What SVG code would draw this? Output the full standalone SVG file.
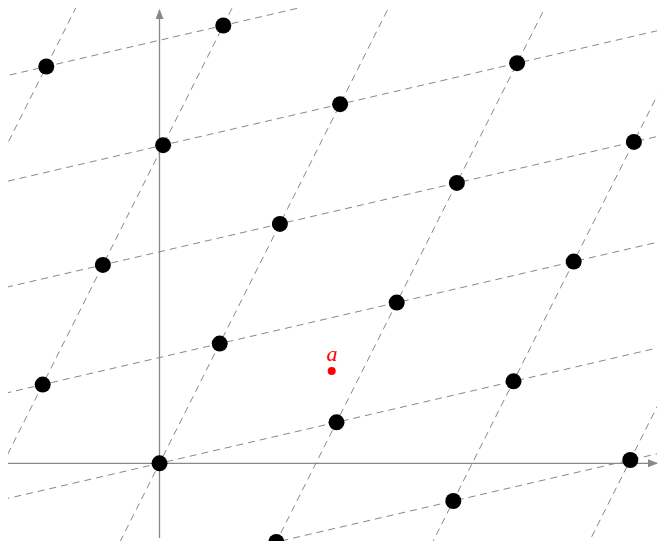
<svg xmlns="http://www.w3.org/2000/svg" width="659" height="541" viewBox="0 0 659 541">
<style>
.grid{stroke:#888;stroke-width:1;stroke-dasharray:7 5;fill:none}
.axis{stroke:#888;stroke-width:1.3;fill:none}
.pt{fill:#000}
.lbl{font-family:"Liberation Serif",serif;font-style:italic;font-size:22px;fill:#f00}
</style>
<defs>
<clipPath id="clip"><rect x="8" y="8" width="649" height="533"/></clipPath>
<marker id="arr" viewBox="0 0 10 8" refX="9" refY="4" markerWidth="10" markerHeight="8" markerUnits="userSpaceOnUse" orient="auto">
<path d="M0,0 L10,4 L0,8 Z" fill="#888"/>
</marker>
</defs>
<g id="connectors">
<g clip-path="url(#clip)">
<line class="grid" x1="-314.9" y1="784.7" x2="166.7" y2="-172.9"/>
<line class="grid" x1="-137.9" y1="743.7" x2="343.7" y2="-213.9"/>
<line class="grid" x1="39.1" y1="702.7" x2="520.7" y2="-254.9"/>
<line class="grid" x1="216.1" y1="661.7" x2="697.7" y2="-295.9"/>
<line class="grid" x1="393.1" y1="620.7" x2="874.7" y2="-336.9"/>
<line class="grid" x1="570.1" y1="579.7" x2="1051.7" y2="-377.9"/>
<line class="grid" x1="-431.7" y1="706" x2="984.3" y2="378"/>
<line class="grid" x1="-371.5" y1="586.3" x2="1044.5" y2="258.3"/>
<line class="grid" x1="-311.3" y1="466.6" x2="1104.7" y2="138.6"/>
<line class="grid" x1="-251.1" y1="346.9" x2="1164.9" y2="18.9"/>
<line class="grid" x1="-190.9" y1="227.2" x2="1225.1" y2="-100.8"/>
<line class="grid" x1="-130.7" y1="107.5" x2="1285.3" y2="-220.5"/>
</g>
<line id="x-axis" class="axis" x1="8" y1="463.3" x2="657" y2="463.3" marker-end="url(#arr)"/>
<line id="y-axis" class="axis" x1="159.5" y1="538" x2="159.5" y2="10" marker-end="url(#arr)"/>
</g>
<g id="p00"><circle class="pt" cx="159.5" cy="463.3" r="8"/></g>
<g id="p01"><circle class="pt" cx="336.5" cy="422.3" r="8"/></g>
<g id="p02"><circle class="pt" cx="513.5" cy="381.3" r="8"/></g>
<g id="pm13"><circle class="pt" cx="630.3" cy="460" r="8"/></g>
<g id="pm12"><circle class="pt" cx="453.3" cy="501" r="8"/></g>
<g id="pm11"><circle class="pt" cx="276.3" cy="542" r="8"/></g>
<g id="p10"><circle class="pt" cx="219.7" cy="343.6" r="8"/></g>
<g id="p11"><circle class="pt" cx="396.7" cy="302.6" r="8"/></g>
<g id="p12"><circle class="pt" cx="573.7" cy="261.6" r="8"/></g>
<g id="p1m1"><circle class="pt" cx="42.7" cy="384.6" r="8"/></g>
<g id="p20"><circle class="pt" cx="279.9" cy="223.9" r="8"/></g>
<g id="p21"><circle class="pt" cx="456.9" cy="182.9" r="8"/></g>
<g id="p22"><circle class="pt" cx="633.9" cy="141.9" r="8"/></g>
<g id="p2m1"><circle class="pt" cx="102.9" cy="264.9" r="8"/></g>
<g id="p30"><circle class="pt" cx="340.1" cy="104.2" r="8"/></g>
<g id="p31"><circle class="pt" cx="517.1" cy="63.2" r="8"/></g>
<g id="p3m1"><circle class="pt" cx="163.1" cy="145.2" r="8"/></g>
<g id="p4m1"><circle class="pt" cx="223.3" cy="25.5" r="8"/></g>
<g id="p4m2"><circle class="pt" cx="46.3" cy="66.5" r="8"/></g>
<g id="point-a">
<circle cx="331.7" cy="371" r="4" fill="#f00"/>
<text class="lbl" x="332" y="361" text-anchor="middle">a</text>
</g>
</svg>
